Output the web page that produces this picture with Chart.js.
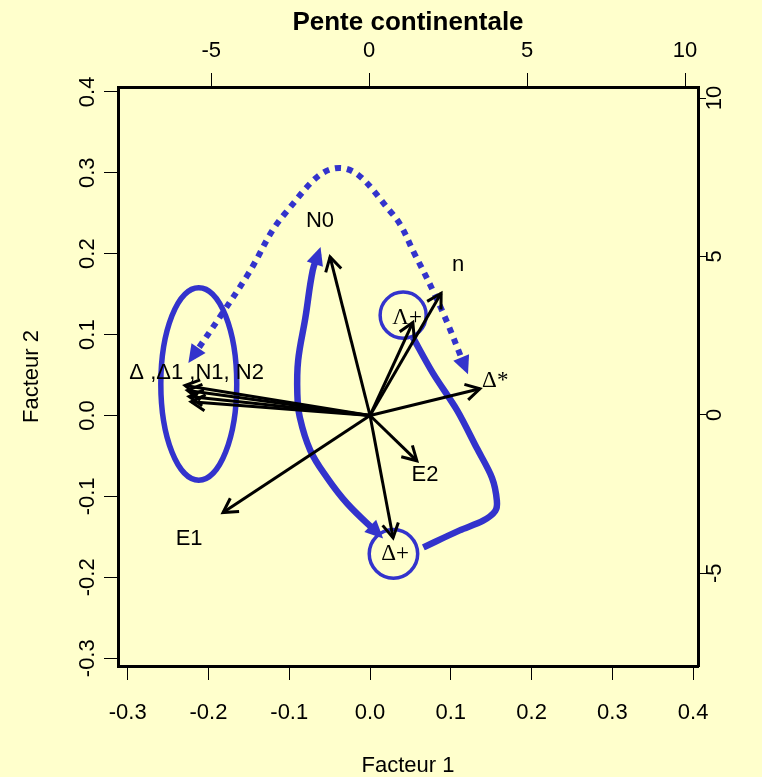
<!DOCTYPE html>
<html>
<head>
<meta charset="utf-8">
<title>Pente continentale</title>
<script src="https://cdn.jsdelivr.net/npm/chart.js"></script>
<style>
  html, body { margin: 0; padding: 0; background: #ffffcc; }
  canvas { display: block; background: #ffffcc; }
</style>
</head>
<body>
<canvas id="chart" width="762" height="777"></canvas>
<script>
// tick labels of the four axes
const xTicks = [-0.3, -0.2, -0.1, 0.0, 0.1, 0.2, 0.3, 0.4];
const yTicks = [-0.3, -0.2, -0.1, 0.0, 0.1, 0.2, 0.3, 0.4];
const topTicks = [-5, 0, 5, 10];
const rightTicks = [-5, 0, 5, 10];

// variable arrows from the origin (Facteur 1, Facteur 2)
const varNames = ['N0', 'n', 'Λ+', 'Δ*', 'E2', 'Δ+', 'E1', 'Δ', 'Δ1', 'N1', 'N2'];
const varX = [-0.0495, 0.088, 0.053, 0.136, 0.058, 0.0285, -0.182, -0.229, -0.226, -0.224, -0.2215];
const varY = [0.196, 0.151, 0.115, 0.033, -0.056, -0.151, -0.120, 0.037, 0.031, 0.0235, 0.017];

// text labels
const labelText = ['N0', 'n', 'Λ+', 'Δ*', 'E2', 'Δ+', 'E1', 'Δ ,Δ1 ,N1, N2'];
const labelX = [-0.062, 0.109, 0.046, 0.155, 0.068, 0.031, -0.224, -0.2147];
const labelY = [0.241, 0.186, 0.120, 0.043, -0.074, -0.171, -0.152, 0.053];
const labelSerif = [false, false, true, true, false, true, false, false];

// blue annotations
const dottedX = [-0.220, -0.183, -0.152, -0.105, -0.038, 0.027, 0.056, 0.089, 0.118];
const dottedY = [0.072, 0.126, 0.173, 0.250, 0.306, 0.250, 0.198, 0.130, 0.059];
const loopX = [-0.064, -0.071, -0.080, -0.089, -0.090, -0.087, -0.074, -0.053, -0.028, 0.010];
const loopY = [0.200, 0.179, 0.121, 0.068, 0.027, -0.002, -0.043, -0.077, -0.109, -0.146];
const hookX = [0.053, 0.078, 0.108, 0.132, 0.151, 0.157, 0.155, 0.140, 0.111, 0.066];
const hookY = [0.0965, 0.052, 0.006, -0.040, -0.077, -0.105, -0.118, -0.130, -0.142, -0.163];

// rings: centre and radii in Facteur units
const ringX = [-0.212, 0.041, 0.029];
const ringY = [0.039, 0.124, -0.171];
const ringRX = [0.047, 0.0285, 0.030];
const ringRY = [0.119, 0.0285, 0.030];

const BLUE = '#3333cc';
const SANS = '"Liberation Sans", Arial, sans-serif';
const SERIF = '"Liberation Serif", "Times New Roman", serif';

const pts = (xs, ys) => xs.map((x, i) => ({x: x, y: ys[i]}));

const datasets = [];
varNames.forEach((name, i) => {
    datasets.push({
        label: name,
        data: [{x: 0, y: 0}, {x: varX[i], y: varY[i]}],
        borderColor: '#000', borderWidth: 3, showLine: true,
        pointRadius: 0, order: 0, headEnd: 'open'
    });
});
datasets.push({
    label: 'dotted', data: pts(dottedX, dottedY),
    borderColor: BLUE, borderWidth: 6, borderDash: [6, 6], tension: 0.4,
    showLine: true, pointRadius: 0, order: 1, headStart: 'fill', headEnd: 'fill'
});
datasets.push({
    label: 'loop', data: pts(loopX, loopY),
    borderColor: BLUE, borderWidth: 6.5, tension: 0.4,
    showLine: true, pointRadius: 0, order: 1, headStart: 'fill', headEnd: 'fill'
});
datasets.push({
    label: 'hook', data: pts(hookX, hookY),
    borderColor: BLUE, borderWidth: 6.5, tension: 0.3,
    showLine: true, pointRadius: 0, order: 1
});
datasets.forEach(d => { d.xAxisID = 'x'; d.yAxisID = 'y'; });

function drawHead(ctx, from, to, kind, color) {
    const a = Math.atan2(to.y - from.y, to.x - from.x);
    ctx.save();
    ctx.translate(to.x, to.y);
    ctx.rotate(a);
    if (kind === 'open') {
        ctx.strokeStyle = color; ctx.lineWidth = 3;
        ctx.lineJoin = 'miter'; ctx.lineCap = 'butt';
        ctx.beginPath(); ctx.moveTo(-14, -8); ctx.lineTo(0, 0); ctx.lineTo(-14, 8); ctx.stroke();
    } else {
        ctx.fillStyle = color;
        ctx.beginPath(); ctx.moveTo(7, 0); ctx.lineTo(-11, -8.5); ctx.lineTo(-11, 8.5); ctx.closePath(); ctx.fill();
    }
    ctx.restore();
}

const rings = {
    id: 'rings',
    beforeDatasetsDraw(chart) {
        const {ctx, scales: {x, y}} = chart;
        ctx.save();
        ctx.strokeStyle = BLUE;
        ringX.forEach((cx, i) => {
            const px = x.getPixelForValue(cx), py = y.getPixelForValue(ringY[i]);
            const rx = Math.abs(x.getPixelForValue(cx + ringRX[i]) - px);
            const ry = Math.abs(y.getPixelForValue(ringY[i] + ringRY[i]) - py);
            ctx.lineWidth = i === 0 ? 5.5 : 3.5;
            ctx.beginPath();
            ctx.ellipse(px, py, rx, ry, 0, 0, Math.PI * 2);
            ctx.stroke();
        });
        ctx.restore();
    }
};

const overlay = {
    id: 'overlay',
    afterDatasetsDraw(chart) {
        const {ctx, scales: {x, y}} = chart;
        chart.data.datasets.forEach((ds, i) => {
            const el = chart.getDatasetMeta(i).data;
            if (el.length < 2) return;
            if (ds.headEnd) drawHead(ctx, el[el.length - 2], el[el.length - 1], ds.headEnd, ds.borderColor);
            if (ds.headStart) drawHead(ctx, el[1], el[0], ds.headStart, ds.borderColor);
        });
        ctx.save();
        ctx.fillStyle = '#000';
        ctx.textAlign = 'center';
        ctx.textBaseline = 'middle';
        labelText.forEach((t, i) => {
            ctx.font = labelSerif[i] ? '23px ' + SERIF : '22px ' + SANS;
            ctx.fillText(t, x.getPixelForValue(labelX[i]), y.getPixelForValue(labelY[i]));
        });
        ctx.restore();
    },
    afterDraw(chart) {
        // rotated tick labels of the vertical axes, as R draws them
        const {ctx, chartArea} = chart;
        ctx.save();
        ctx.font = '22px ' + SANS;
        ctx.fillStyle = '#000';
        ctx.textAlign = 'center';
        ctx.textBaseline = 'middle';
        [['y', chartArea.left - 30, v => v.toFixed(1)],
         ['y2', chartArea.right + 17, v => String(v)]].forEach(([id, px, fmt]) => {
            const s = chart.scales[id];
            s.ticks.forEach(t => {
                ctx.save();
                ctx.translate(px, s.getPixelForValue(t.value));
                ctx.rotate(-Math.PI / 2);
                ctx.fillText(fmt(t.value), 0, 0);
                ctx.restore();
            });
        });
        ctx.restore();
    }
};

const grid = {drawOnChartArea: false, tickLength: 14, color: '#000', lineWidth: 1};
const border = {display: true, color: '#000', width: 3};
const tickFont = {family: SANS, size: 22};

new Chart(document.getElementById('chart'), {
    type: 'scatter',
    data: {datasets: datasets},
    options: {
        responsive: false,
        animation: false,
        layout: {padding: 0},
        plugins: {legend: {display: false}, tooltip: {enabled: false}, title: {display: false}},
        scales: {
            x: {
                type: 'linear', position: 'bottom', min: -0.312, max: 0.406,
                afterBuildTicks: s => { s.ticks = xTicks.map(v => ({value: v})); },
                afterFit: s => { s.height = 111; },
                ticks: {autoSkip: false, maxRotation: 0, padding: 20, color: '#000', font: tickFont,
                        callback: v => v.toFixed(1)},
                grid: grid, border: border,
                title: {display: true, text: 'Facteur 1', color: '#000', font: tickFont, padding: {top: 0, bottom: -2}}
            },
            x2: {
                type: 'linear', position: 'top', min: -7.95, max: 10.41,
                afterBuildTicks: s => { s.ticks = topTicks.map(v => ({value: v})); },
                afterFit: s => { s.height = 87; },
                ticks: {autoSkip: false, maxRotation: 0, padding: 9, color: '#000', font: tickFont,
                        callback: v => String(v)},
                grid: grid, border: border,
                title: {display: true, text: 'Pente continentale', color: '#000',
                        font: {family: SANS, size: 26, weight: 'bold'}, padding: {top: 7, bottom: 0}}
            },
            y: {
                type: 'linear', position: 'left', min: -0.3096, max: 0.406,
                afterBuildTicks: s => { s.ticks = yTicks.map(v => ({value: v})); },
                afterFit: s => { s.width = 118; },
                ticks: {display: false},
                grid: grid, border: border,
                title: {display: true, text: 'Facteur 2', color: '#000', font: tickFont, padding: {top: 19, bottom: 0}}
            },
            y2: {
                type: 'linear', position: 'right', min: -7.93, max: 10.35,
                afterBuildTicks: s => { s.ticks = rightTicks.map(v => ({value: v})); },
                afterFit: s => { s.width = 64; },
                ticks: {display: false},
                grid: Object.assign({}, grid, {tickLength: 8}), border: border
            }
        }
    },
    plugins: [rings, overlay]
});
</script>
</body>
</html>
